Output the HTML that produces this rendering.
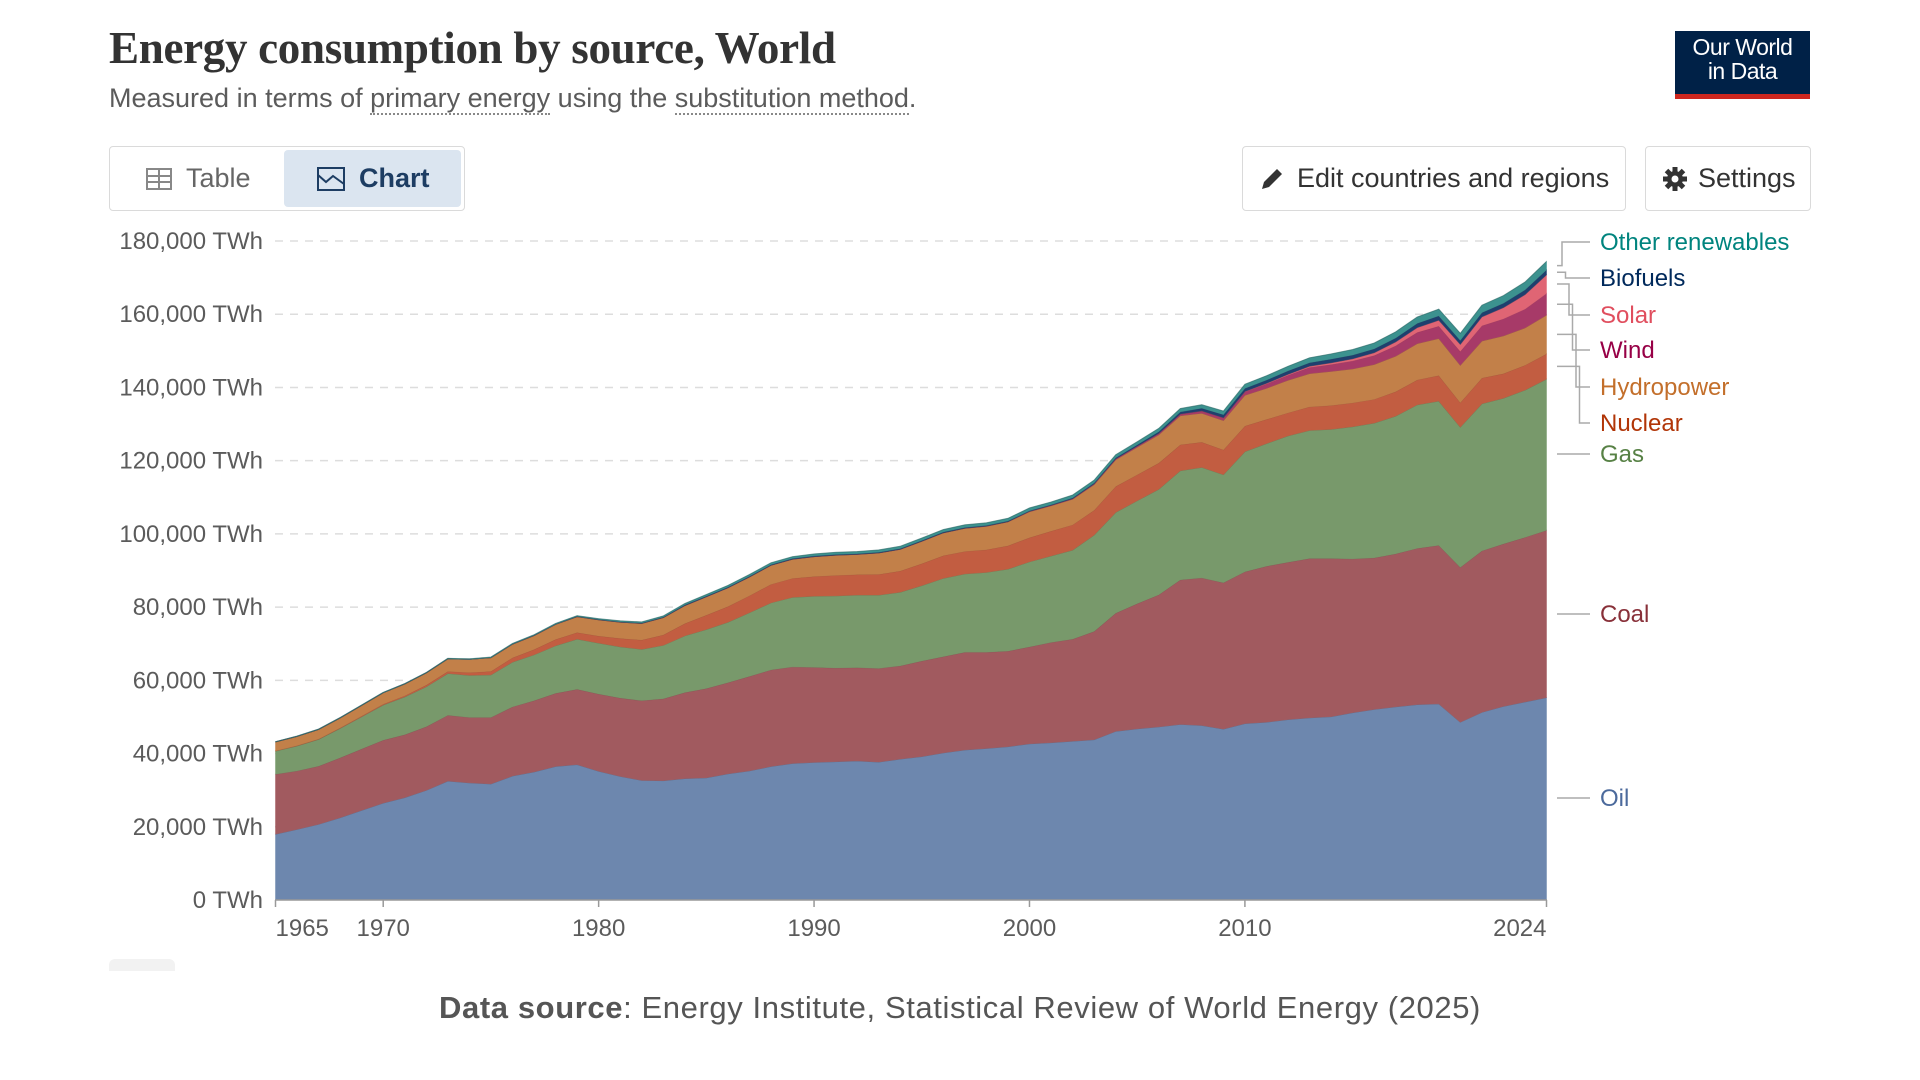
<!DOCTYPE html>
<html><head><meta charset="utf-8">
<style>
body{margin:0;background:#fff;width:1920px;height:1080px;overflow:hidden;font-family:"Liberation Sans",sans-serif;}
.abs{position:absolute;}
.btn{position:absolute;border:1px solid #dadada;border-radius:4px;background:#fff;box-sizing:border-box;color:#333;font-size:27px;display:flex;align-items:center;}
</style></head><body>
<div class="abs" style="left:109px;top:22px;font-family:'Liberation Serif',serif;font-size:45px;font-weight:bold;color:#333;letter-spacing:-0.3px;">Energy consumption by source, World</div>
<div class="abs" style="left:109px;top:83px;font-size:27px;color:#5b5b5b;">Measured in terms of <span style="border-bottom:2px dotted #888;">primary energy</span> using the <span style="border-bottom:2px dotted #888;">substitution method</span>.</div>
<div class="abs" style="left:1675px;top:31px;width:135px;height:68px;background:#002147;border-bottom:5px solid #ce261e;box-sizing:border-box;color:#fff;font-size:23px;line-height:24px;text-align:center;padding-top:4px;letter-spacing:-0.5px;">Our World<br>in Data</div>

<div class="btn" style="left:109px;top:146px;width:356px;height:65px;"></div>
<div class="btn" style="left:113px;top:150px;width:170px;height:57px;border:none;color:#666;padding-left:33px;">
<svg width="26" height="22" style="margin-right:14px"><rect x="1" y="1" width="24" height="20" fill="none" stroke="#888" stroke-width="2"/><line x1="1" y1="8" x2="25" y2="8" stroke="#888" stroke-width="2"/><line x1="1" y1="14" x2="25" y2="14" stroke="#888" stroke-width="2"/><line x1="13" y1="1" x2="13" y2="21" stroke="#888" stroke-width="2"/></svg>Table</div>
<div class="btn" style="left:284px;top:150px;width:177px;height:57px;border:none;background:#dbe5f0;color:#1d3d63;padding-left:33px;font-weight:bold;">
<svg width="28" height="24" style="margin-right:14px"><rect x="1" y="1" width="26" height="22" fill="none" stroke="#1d3d63" stroke-width="2"/><polyline points="1,8 9,15 16,9 27,17" fill="none" stroke="#1d3d63" stroke-width="2"/></svg>Chart</div>
<div class="btn" style="left:1242px;top:146px;width:384px;height:65px;padding-left:16px;">
<svg width="26" height="26" style="margin-right:12px"><path d="M3 23 L5 16 L18 3 L23 8 L10 21 Z" fill="#333"/></svg>Edit countries and regions</div>
<div class="btn" style="left:1645px;top:146px;width:166px;height:65px;padding-left:16px;">
<svg width="26" height="26" style="margin-right:10px" viewBox="0 0 26 26"><circle cx="13" cy="13" r="8" fill="#333"/><g stroke="#333" stroke-width="5"><line x1="13" y1="1" x2="13" y2="25"/><line x1="1" y1="13" x2="25" y2="13"/><line x1="4.5" y1="4.5" x2="21.5" y2="21.5"/><line x1="21.5" y1="4.5" x2="4.5" y2="21.5"/></g><circle cx="13" cy="13" r="3.5" fill="#fff"/></svg>Settings</div>

<svg id="chart" class="abs" style="left:0;top:0" width="1920" height="1080"></svg>

<div class="abs" style="left:109px;top:959px;width:66px;height:12px;background:#f2f2f2;border-radius:6px 6px 0 0;"></div>
<div class="abs" style="left:0;width:1920px;top:990px;text-align:center;font-size:31px;letter-spacing:0.6px;color:#555;"><b>Data source</b>: Energy Institute, Statistical Review of World Energy (2025)</div>

<script>
const years = [];
for (let y = 1965; y <= 2024; y++) years.push(y);
const oil = [18000,19300,20700,22500,24500,26500,28000,30000,32500,32000,31700,33900,35000,36500,37000,35200,33800,32700,32600,33200,33400,34500,35300,36500,37300,37600,37800,38000,37700,38500,39200,40200,41000,41400,41900,42700,43000,43400,43800,46100,46800,47300,48000,47700,46700,48200,48600,49300,49800,50100,51200,52100,52800,53400,53600,48600,51300,52900,54100,55300];
const coal = [16400,16000,15900,16400,16800,17200,17200,17400,18000,17900,18200,18900,19500,20000,20600,21100,21400,21800,22400,23500,24400,24900,25800,26400,26400,26000,25600,25500,25600,25500,26100,26300,26700,26300,26100,26500,27400,27900,29600,32300,34200,36100,39500,40300,40000,41500,42600,43000,43500,43200,42000,41400,41800,42700,43300,42300,44100,44400,45000,45700];
const gas = [6300,6800,7300,8000,8800,9600,10300,10900,11400,11500,11600,12200,12500,13000,13700,13900,14000,14000,14600,15500,16100,16500,17400,18300,19000,19400,19700,19800,20000,20100,20600,21400,21400,21800,22400,23200,23600,24300,26300,27500,28100,28800,29800,30200,29500,32800,33500,34500,35000,35300,36100,36800,37600,39200,39400,38300,40200,39800,40200,41300];
const nuclear = [70,90,110,150,180,230,320,450,580,750,1000,1200,1450,1700,1800,1950,2300,2550,2850,3350,3950,4300,4650,5050,5200,5400,5600,5600,5700,5800,6000,6200,6150,6200,6400,6600,6800,6900,6800,7100,7100,7200,7100,6900,6800,7000,6600,6300,6400,6500,6500,6500,6700,6800,7000,6700,7000,6700,6800,6900];
const hydro = [2400,2500,2600,2700,2900,3100,3200,3300,3400,3600,3700,3700,3800,4100,4300,4400,4400,4500,4700,4900,5000,5100,5100,5200,5200,5400,5500,5500,5800,5900,6100,6200,6300,6400,6500,7100,6900,7000,7000,7300,7500,7700,7900,7900,8000,8400,8500,8900,9100,9300,9300,9500,9700,9900,10100,10200,10100,10300,10200,10600];
const wind = [0,0,0,0,0,0,0,0,0,0,0,0,0,0,0,0,0,0,0,0,1,2,3,4,5,9,10,12,14,16,22,27,33,45,60,82,105,145,175,230,285,360,460,590,720,930,1160,1370,1690,1900,2170,2450,2830,3070,3370,3760,4200,4690,5130,5900];
const solar = [0,0,0,0,0,0,0,0,0,0,0,0,0,0,0,0,0,0,0,0,0,0,0,0,0,1,1,1,1,1,1,1,1,2,2,3,4,5,6,7,11,15,20,30,50,90,170,250,340,460,580,760,1030,1300,1620,1960,2400,3050,3970,5100];
const biofuels = [0,0,0,0,0,0,0,0,0,0,10,20,40,60,80,100,120,140,160,180,190,190,180,180,190,200,200,190,200,200,210,210,200,190,190,180,190,220,260,300,360,470,580,730,800,880,900,920,960,1010,1020,1050,1080,1140,1170,1080,1160,1200,1260,1320];
const otherRenewables = [90,95,100,105,110,115,120,125,130,140,150,160,170,180,190,200,230,260,300,350,400,440,470,490,510,530,560,580,600,620,640,660,690,700,710,720,710,740,760,800,830,860,900,940,990,1080,1140,1230,1320,1400,1490,1580,1660,1740,1830,1900,2000,2060,2150,2300];
const seriesNames = ["Oil","Coal","Gas","Nuclear","Hydropower","Wind","Solar","Biofuels","Other renewables"];
const yTicks = [0,20000,40000,60000,80000,100000,120000,140000,160000,180000];
const xTickYears = [1965,1970,1980,1990,2000,2010,2024];

const seriesData = [oil,coal,gas,nuclear,hydro,wind,solar,biofuels,otherRenewables];
const fills = ["#6d87ae","#a15a5f","#78996b","#c25d41","#c28049","#a73a68","#e06574","#1f3f6e","#3c928f"];
const labelColors = ["#4c6a9c","#883039","#578145","#b13507","#c36f2b","#970046","#e04e5e","#00295b","#00847e"];
const labelY = [798,614,454,423,387,350,315,278,242];

const X0=275.5, X1=1546.5, Y0=900, YTOP=241;
function xs(yr){return X0+(yr-1965)*(X1-X0)/(2024-1965);}
function ys(v){return Y0-v*(Y0-YTOP)/180000;}
function fmt(n){return n.toString().replace(/\B(?=(\d{3})+(?!\d))/g,",");}

const svg=document.getElementById('chart');
const NS="http://www.w3.org/2000/svg";
function mk(tag,attrs){const e=document.createElementNS(NS,tag);for(const k in attrs)e.setAttribute(k,attrs[k]);svg.appendChild(e);return e;}

yTicks.forEach(t=>{
  if(t>0){const g=mk('line',{x1:275,x2:1546,y1:ys(t),y2:ys(t),stroke:'#ddd','stroke-width':1.5,'stroke-dasharray':'8,7'});
  
  }
  const tx=mk('text',{x:263,y:ys(t)+8,'text-anchor':'end','font-size':24,fill:'#5b5b5b','font-family':'Liberation Sans, sans-serif'});
  tx.textContent=fmt(t)+" TWh";
  
  
});

const cum=years.map(()=>0);
seriesData.forEach((s,si)=>{
  const lower=cum.slice();
  s.forEach((v,i)=>cum[i]+=v);
  let d="M"+years.map((y,i)=>xs(y).toFixed(1)+","+ys(cum[i]).toFixed(1)).join(" L");
  for(let i=years.length-1;i>=0;i--) d+=" L"+xs(years[i]).toFixed(1)+","+ys(lower[i]).toFixed(1);
  d+=" Z";
  const p=mk('path',{d:d,fill:fills[si],stroke:fills[si],'stroke-width':0.8,'stroke-opacity':0.6});
  
  
  const topLine=mk('polyline',{points:years.map((y,i)=>xs(y).toFixed(1)+","+ys(cum[i]).toFixed(1)).join(" "),fill:'none',stroke:'rgba(0,0,0,0.18)','stroke-width':1});
  
  
  const last=years.length-1;
  const mid=ys((lower[last]+cum[last])/2);
  const ly=labelY[si];
  let pd;
  if(si<=2) pd="M1557,"+ly+" H1590";
  else { const ex=1562+ (8-si)*3.5; pd="M1557,"+mid.toFixed(1)+" H"+ex+" V"+ly+" H1590"; }
  const c=mk('path',{d:pd,fill:'none',stroke:'#aaa','stroke-width':1.5});
  
  
  const lt=mk('text',{x:1600,y:ly+8,'font-size':24,fill:labelColors[si],'font-family':'Liberation Sans, sans-serif'});
  lt.textContent=seriesNames[si];
  
  
});

const ax=mk('line',{x1:275,x2:1547,y1:900,y2:900,stroke:'#999','stroke-width':1.5});


xTickYears.forEach(y=>{
  const tk=mk('line',{x1:xs(y),x2:xs(y),y1:900,y2:907,stroke:'#999','stroke-width':1.5});
  
  
  const anchor=y===1965?'start':(y===2024?'end':'middle');
  const tx=mk('text',{x:xs(y),y:936,'text-anchor':anchor,'font-size':24,fill:'#5b5b5b','font-family':'Liberation Sans, sans-serif'});
  tx.textContent=y;
  
  
});
</script>
</body></html>
